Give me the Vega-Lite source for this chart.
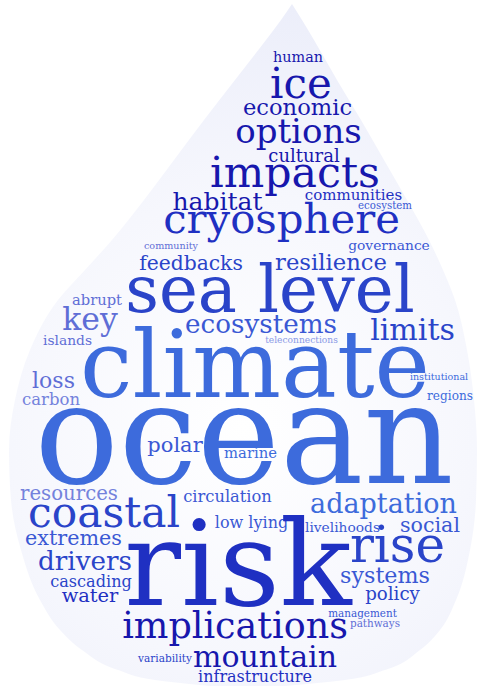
{
  "$schema": "https://vega.github.io/schema/vega-lite/v6.json",
  "autosize": {"type": "fit", "contains": "padding"},
  "width": 481,
  "height": 687,
  "padding": 0,
  "background": "#ffffff",
  "config": {"view": {"stroke": null}},
  "datasets": {
    "drop": [
      {"y": 4, "left": 292, "right": 292},
      {"y": 20, "left": 281, "right": 302},
      {"y": 40, "left": 266, "right": 314},
      {"y": 80, "left": 235, "right": 337},
      {"y": 120, "left": 204, "right": 361},
      {"y": 160, "left": 174, "right": 384},
      {"y": 200, "left": 144, "right": 407},
      {"y": 240, "left": 112, "right": 429},
      {"y": 270, "left": 85, "right": 443},
      {"y": 300, "left": 58, "right": 455},
      {"y": 350, "left": 30, "right": 467},
      {"y": 400, "left": 15, "right": 474},
      {"y": 450, "left": 9, "right": 477},
      {"y": 500, "left": 11, "right": 476},
      {"y": 550, "left": 21, "right": 470},
      {"y": 600, "left": 40, "right": 456},
      {"y": 630, "left": 60, "right": 440},
      {"y": 650, "left": 82, "right": 420},
      {"y": 670, "left": 118, "right": 385},
      {"y": 680, "left": 155, "right": 345},
      {"y": 686, "left": 210, "right": 285}
    ],
    "words": [
      {"word": "human", "x": 298, "y": 62, "weight": 14.4, "tone": 1},
      {"word": "ice", "x": 301, "y": 98, "weight": 42, "tone": 1},
      {"word": "economic", "x": 297.5, "y": 115, "weight": 22.6, "tone": 1},
      {"word": "options", "x": 298.5, "y": 143, "weight": 34, "tone": 1},
      {"word": "cultural", "x": 304, "y": 162, "weight": 18, "tone": 1},
      {"word": "impacts", "x": 295, "y": 187, "weight": 42.7, "tone": 1},
      {"word": "habitat", "x": 217.5, "y": 210, "weight": 25, "tone": 1},
      {"word": "communities", "x": 353.5, "y": 200, "weight": 15, "tone": 2},
      {"word": "ecosystem", "x": 385, "y": 209, "weight": 10.2, "tone": 4},
      {"word": "cryosphere", "x": 281.5, "y": 233, "weight": 41.8, "tone": 2},
      {"word": "community", "x": 171, "y": 249, "weight": 9.6, "tone": 6},
      {"word": "governance", "x": 389, "y": 250, "weight": 13.8, "tone": 4},
      {"word": "feedbacks", "x": 191, "y": 270, "weight": 20.3, "tone": 3},
      {"word": "resilience", "x": 331, "y": 270, "weight": 22.7, "tone": 3},
      {"word": "sea level", "x": 270, "y": 312, "weight": 65.7, "tone": 3},
      {"word": "abrupt", "x": 97, "y": 305, "weight": 14.7, "tone": 6},
      {"word": "key", "x": 90, "y": 330, "weight": 31.5, "tone": 6},
      {"word": "islands", "x": 67.5, "y": 345, "weight": 13.8, "tone": 6},
      {"word": "ecosystems", "x": 261, "y": 333, "weight": 26.2, "tone": 4},
      {"word": "limits", "x": 412.5, "y": 340, "weight": 30, "tone": 3},
      {"word": "teleconnections", "x": 301.5, "y": 343, "weight": 9.1, "tone": 8},
      {"word": "climate", "x": 255, "y": 397, "weight": 93.6, "tone": 5},
      {"word": "loss", "x": 53.5, "y": 388, "weight": 22, "tone": 6},
      {"word": "carbon", "x": 51, "y": 405, "weight": 16.5, "tone": 7},
      {"word": "institutional", "x": 439, "y": 380, "weight": 9.5, "tone": 5},
      {"word": "regions", "x": 450, "y": 400, "weight": 12.1, "tone": 5},
      {"word": "ocean", "x": 244, "y": 483, "weight": 140, "tone": 5},
      {"word": "polar", "x": 175, "y": 452, "weight": 21, "tone": 4},
      {"word": "marine", "x": 250.5, "y": 458, "weight": 14.8, "tone": 5},
      {"word": "resources", "x": 69, "y": 500, "weight": 19.7, "tone": 7},
      {"word": "circulation", "x": 227.5, "y": 502, "weight": 16.3, "tone": 4},
      {"word": "adaptation", "x": 383.5, "y": 513, "weight": 27, "tone": 5},
      {"word": "coastal", "x": 104, "y": 527, "weight": 42.3, "tone": 3},
      {"word": "low lying", "x": 251.5, "y": 528, "weight": 16, "tone": 4},
      {"word": "livelihoods", "x": 342.5, "y": 532, "weight": 13.8, "tone": 4},
      {"word": "social", "x": 430, "y": 532, "weight": 20.6, "tone": 4},
      {"word": "extremes", "x": 73.5, "y": 545, "weight": 20.7, "tone": 4},
      {"word": "risk", "x": 238, "y": 605, "weight": 118.7, "tone": 2},
      {"word": "rise", "x": 397.5, "y": 562, "weight": 50, "tone": 3},
      {"word": "drivers", "x": 85, "y": 570, "weight": 26.2, "tone": 3},
      {"word": "cascading", "x": 91, "y": 587, "weight": 16.1, "tone": 3},
      {"word": "water", "x": 90, "y": 602, "weight": 19.4, "tone": 2},
      {"word": "systems", "x": 385, "y": 583, "weight": 22.2, "tone": 4},
      {"word": "policy", "x": 392.5, "y": 600, "weight": 18.2, "tone": 3},
      {"word": "management", "x": 362.5, "y": 617, "weight": 10.4, "tone": 4},
      {"word": "implications", "x": 235, "y": 638, "weight": 36.5, "tone": 1},
      {"word": "pathways", "x": 375, "y": 627, "weight": 10.4, "tone": 6},
      {"word": "variability", "x": 165, "y": 662, "weight": 10.5, "tone": 3},
      {"word": "mountain", "x": 265, "y": 667, "weight": 30, "tone": 1},
      {"word": "infrastructure", "x": 255, "y": 682, "weight": 16, "tone": 2}
    ]
  },
  "layer": [
    {
      "data": {"name": "drop"},
      "mark": {
        "type": "area",
        "orient": "horizontal",
        "interpolate": "monotone",
        "color": {
          "gradient": "radial",
          "x1": 0.5, "y1": 0.62, "r1": 0,
          "x2": 0.5, "y2": 0.62, "r2": 0.62,
          "stops": [
            {"offset": 0, "color": "#ffffff"},
            {"offset": 0.55, "color": "#f6f7fd"},
            {"offset": 1, "color": "#eceefa"}
          ]
        }
      },
      "encoding": {
        "y": {"field": "y", "type": "quantitative", "scale": {"domain": [0, 687], "reverse": true, "nice": false, "zero": false}, "axis": null},
        "x": {"field": "left", "type": "quantitative", "scale": {"domain": [0, 481], "nice": false, "zero": false}, "axis": null},
        "x2": {"field": "right"}
      }
    },
    {
      "data": {"name": "words"},
      "mark": {"type": "text", "font": "DejaVu Serif", "align": "center", "baseline": "alphabetic"},
      "encoding": {
        "x": {"field": "x", "type": "quantitative", "axis": null},
        "y": {"field": "y", "type": "quantitative", "axis": null},
        "text": {"field": "word"},
        "size": {"field": "weight", "type": "quantitative", "scale": {"type": "linear", "domain": [0, 140], "range": [0, 140], "zero": true}, "legend": null},
        "color": {
          "field": "tone", "type": "ordinal",
          "scale": {"domain": [1, 2, 3, 4, 5, 6, 7, 8], "range": ["#1717ad", "#1f30c2", "#2a44c9", "#3a58d4", "#3d6bdc", "#5f6ed6", "#7482dc", "#8a9ae6"]},
          "legend": null
        }
      }
    }
  ]
}
